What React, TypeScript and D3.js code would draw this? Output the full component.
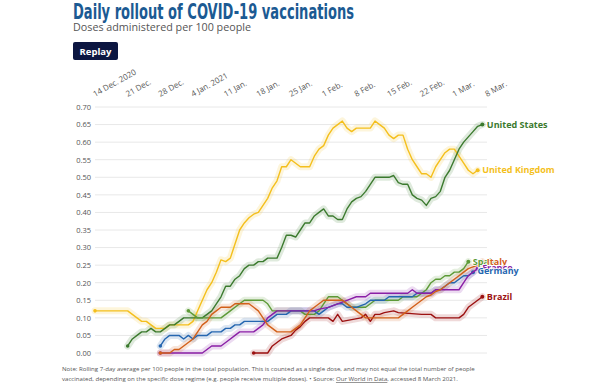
import React from "react";
import * as d3 from "d3";

const START = new Date(2020, 11, 14);
const END = new Date(2021, 2, 8);

const yTicks = [0, 0.05, 0.1, 0.15, 0.2, 0.25, 0.3, 0.35, 0.4, 0.45, 0.5, 0.55, 0.6, 0.65, 0.7];
const xTickLabels = ["14 Dec. 2020", "21 Dec.", "28 Dec.", "4 Jan. 2021", "11 Jan.", "18 Jan.", "25 Jan.", "1 Feb.", "8 Feb.", "15 Feb.", "22 Feb.", "1 Mar.", "8 Mar."];

// [day offset from 14 Dec 2020, doses per 100 people]
const ukPoints: [number, number][] = [[0,.12],[7,.12],[8,.11],[9,.10],[10,.09],[11,.09],[12,.08],[13,.07],[15,.07],[16,.08],[20,.08],[21,.09],[22,.12],[23,.15],[24,.18],[25,.20],[26,.23],[27,.265],[28,.26],[29,.27],[30,.31],[31,.35],[32,.37],[33,.385],[34,.395],[35,.40],[36,.42],[37,.44],[38,.47],[39,.49],[40,.53],[41,.53],[42,.55],[43,.54],[44,.53],[46,.53],[47,.56],[48,.58],[49,.59],[50,.62],[51,.64],[52,.65],[53,.66],[54,.64],[55,.63],[56,.64],[59,.64],[60,.66],[61,.65],[62,.64],[63,.62],[64,.61],[65,.62],[66,.62],[67,.58],[68,.55],[69,.53],[70,.51],[71,.51],[72,.50],[73,.53],[74,.55],[75,.57],[76,.58],[77,.58],[78,.56],[79,.54],[80,.52],[81,.51],[82,.52]];
const usPoints: [number, number][] = [[7,.02],[8,.04],[9,.05],[10,.06],[11,.06],[12,.07],[13,.06],[14,.06],[15,.07],[16,.08],[17,.08],[18,.09],[19,.10],[23,.10],[24,.11],[25,.12],[26,.14],[27,.16],[28,.19],[29,.19],[30,.21],[31,.22],[32,.24],[33,.25],[34,.25],[35,.26],[36,.26],[37,.27],[39,.27],[40,.30],[41,.335],[42,.335],[43,.33],[44,.35],[45,.37],[46,.37],[47,.39],[48,.40],[49,.41],[50,.39],[51,.39],[52,.38],[53,.38],[54,.41],[55,.43],[56,.44],[57,.445],[58,.46],[59,.48],[60,.50],[63,.50],[64,.505],[65,.485],[66,.48],[67,.48],[68,.45],[69,.44],[70,.435],[71,.42],[72,.44],[73,.445],[74,.46],[75,.50],[76,.52],[77,.55],[78,.58],[79,.60],[80,.615],[81,.63],[82,.645],[83,.65]];
const spainPoints: [number, number][] = [[20,.12],[21,.11],[22,.10],[27,.10],[28,.11],[29,.12],[30,.13],[31,.14],[32,.15],[36,.15],[37,.14],[38,.12],[44,.12],[45,.11],[47,.11],[48,.12],[49,.14],[50,.16],[52,.16],[53,.15],[54,.14],[55,.13],[58,.13],[59,.14],[60,.15],[65,.15],[66,.16],[69,.16],[70,.17],[71,.18],[72,.20],[73,.21],[74,.21],[75,.22],[76,.22],[77,.23],[78,.23],[79,.24],[80,.26]];
const italyPoints: [number, number][] = [[14,0],[16,0],[17,.01],[18,.01],[19,.02],[20,.03],[21,.04],[22,.06],[23,.08],[24,.09],[25,.11],[26,.12],[27,.13],[29,.13],[30,.14],[33,.14],[34,.13],[35,.12],[36,.10],[37,.08],[38,.07],[39,.06],[42,.06],[43,.07],[44,.08],[45,.10],[46,.12],[47,.13],[48,.14],[49,.15],[53,.15],[54,.14],[55,.13],[56,.12],[57,.11],[58,.10],[65,.10],[66,.11],[67,.12],[68,.13],[69,.14],[70,.15],[71,.16],[72,.165],[73,.175],[74,.18],[75,.19],[76,.20],[77,.21],[78,.22],[79,.23],[80,.24],[81,.245],[82,.25],[83,.26]];
const francePoints: [number, number][] = [[14,0],[23,0],[24,.01],[25,.02],[27,.02],[28,.03],[29,.04],[30,.05],[31,.06],[34,.06],[35,.07],[36,.08],[37,.10],[38,.11],[39,.12],[47,.12],[48,.125],[50,.13],[52,.14],[54,.15],[56,.16],[58,.16],[59,.17],[67,.17],[68,.18],[69,.17],[72,.17],[73,.18],[78,.18],[79,.20],[80,.22],[81,.23],[82,.24]];
const germanyPoints: [number, number][] = [[14,.02],[15,.04],[16,.05],[18,.05],[19,.04],[20,.05],[21,.04],[22,.05],[24,.05],[25,.06],[27,.06],[28,.07],[29,.07],[30,.08],[31,.08],[32,.09],[37,.09],[38,.10],[39,.11],[41,.11],[42,.12],[47,.12],[48,.11],[49,.12],[50,.13],[52,.14],[53,.14],[54,.13],[56,.13],[58,.14],[59,.15],[62,.15],[63,.16],[68,.16],[69,.17],[72,.17],[73,.18],[74,.18],[75,.19],[76,.20],[77,.20],[78,.21],[79,.22],[80,.22],[81,.23]];
const brazilPoints: [number, number][] = [[34,0],[37,0],[38,.02],[39,.03],[40,.04],[41,.045],[42,.05],[43,.065],[44,.075],[45,.09],[46,.10],[50,.10],[51,.09],[52,.11],[53,.09],[55,.095],[57,.10],[58,.11],[59,.09],[60,.11],[61,.11],[62,.115],[64,.12],[65,.115],[70,.11],[72,.11],[73,.10],[78,.10],[79,.11],[80,.13],[81,.14],[82,.15],[83,.16]];

const seriesNames = ["United Kingdom", "United States", "Spain", "Brazil", "Germany", "France", "Italy"];
const seriesData = [ukPoints, usPoints, spainPoints, brazilPoints, germanyPoints, francePoints, italyPoints];
const seriesColors = ["#f4bf1c", "#3b7a2e", "#5d9a37", "#9c1111", "#2566b0", "#8a1fa6", "#d2601a"];

const W = 614, H = 386;

export default function App() {
  const x = d3.scaleTime().domain([START, END]).range([95, 487]);
  const y = d3.scaleLinear().domain([0, 0.7]).range([353, 107]);
  const xTicks = d3.timeDay.range(START, d3.timeDay.offset(END, 1), 7);
  const dateOf = (d: number) => d3.timeDay.offset(START, d);
  const line = d3.line<[number, number]>().x((p) => x(dateOf(p[0]))).y((p) => y(p[1]));
  const font = "'Open Sans', sans-serif";
  const labelOrder = [1, 0, 2, 6, 5, 4, 3];
  return (
    <svg width={W} height={H} style={{ position: "absolute", left: 0, top: 0 }} fontFamily={font}>
      <rect width={W} height={H} fill="#fff" />
      <text x={73} y={19} fontFamily="'DejaVu Sans Condensed', 'DejaVu Sans', sans-serif" fontWeight="bold" fontSize={20.5} fill="#1b5a93" textLength={281} lengthAdjust="spacingAndGlyphs">Daily rollout of COVID-19 vaccinations</text>
      <text x={73} y={31} fontSize={11.5} fill="#555" textLength={178} lengthAdjust="spacingAndGlyphs">Doses administered per 100 people</text>
      <rect x={73} y={42} width={45} height={18} rx={2} fill="#0c1641" />
      <text x={95.5} y={54.5} fontSize={9.5} fontWeight="bold" fill="#fff" textAnchor="middle">Replay</text>
      {yTicks.map((t) => (
        <g key={t}>
          <line x1={95} x2={487} y1={y(t)} y2={y(t)} stroke="#e8e8e8" strokeWidth={1} />
          <text x={91} y={y(t) + 2.8} fontSize={7.5} fill="#555" textAnchor="end">{t.toFixed(2)}</text>
        </g>
      ))}
      {xTicks.map((t, i) => (
        <text key={i} transform={`translate(${x(t)},97) rotate(-29)`} fontSize={8} fill="#555">{xTickLabels[i]}</text>
      ))}
      {seriesData.map((pts, i) => (
        <path key={"h" + i} d={line(pts)!} fill="none" stroke={seriesColors[i]} strokeOpacity={0.16} strokeWidth={7} strokeLinejoin="round" strokeLinecap="round" />
      ))}
      {seriesData.map((pts, i) => (
        <g key={"l" + i}>
          <path d={line(pts)!} fill="none" stroke={seriesColors[i]} strokeWidth={1.4} strokeLinejoin="round" />
          <circle cx={x(dateOf(pts[0][0]))} cy={y(pts[0][1])} r={1.8} fill={seriesColors[i]} />
          <circle cx={x(dateOf(pts[pts.length - 1][0]))} cy={y(pts[pts.length - 1][1])} r={2} fill={seriesColors[i]} />
        </g>
      ))}
      {labelOrder.map((i) => {
        const pts = seriesData[i];
        const last = pts[pts.length - 1];
        let dy = 3;
        if (seriesNames[i] === "France") dy = 2;
        if (seriesNames[i] === "Germany") dy = 1.5;
        return (
          <text key={"t" + i} x={x(dateOf(last[0])) + 4.5} y={y(last[1]) + dy} fontSize={9} fontWeight="bold" fill={seriesColors[i]} stroke="#fff" strokeWidth={1.5} paintOrder="stroke">{seriesNames[i]}</text>
        );
      })}
      <text x={62} y={371} fontSize={6.1} fill="#555">Note: Rolling 7-day average per 100 people in the total population. This is counted as a single dose, and may not equal the total number of people</text>
      <text x={62} y={381} fontSize={6.1} fill="#555">vaccinated, depending on the specific dose regime (e.g. people receive multiple doses). • Source: <tspan textDecoration="underline">Our World in Data</tspan>, accessed 8 March 2021.</text>
    </svg>
  );
}
